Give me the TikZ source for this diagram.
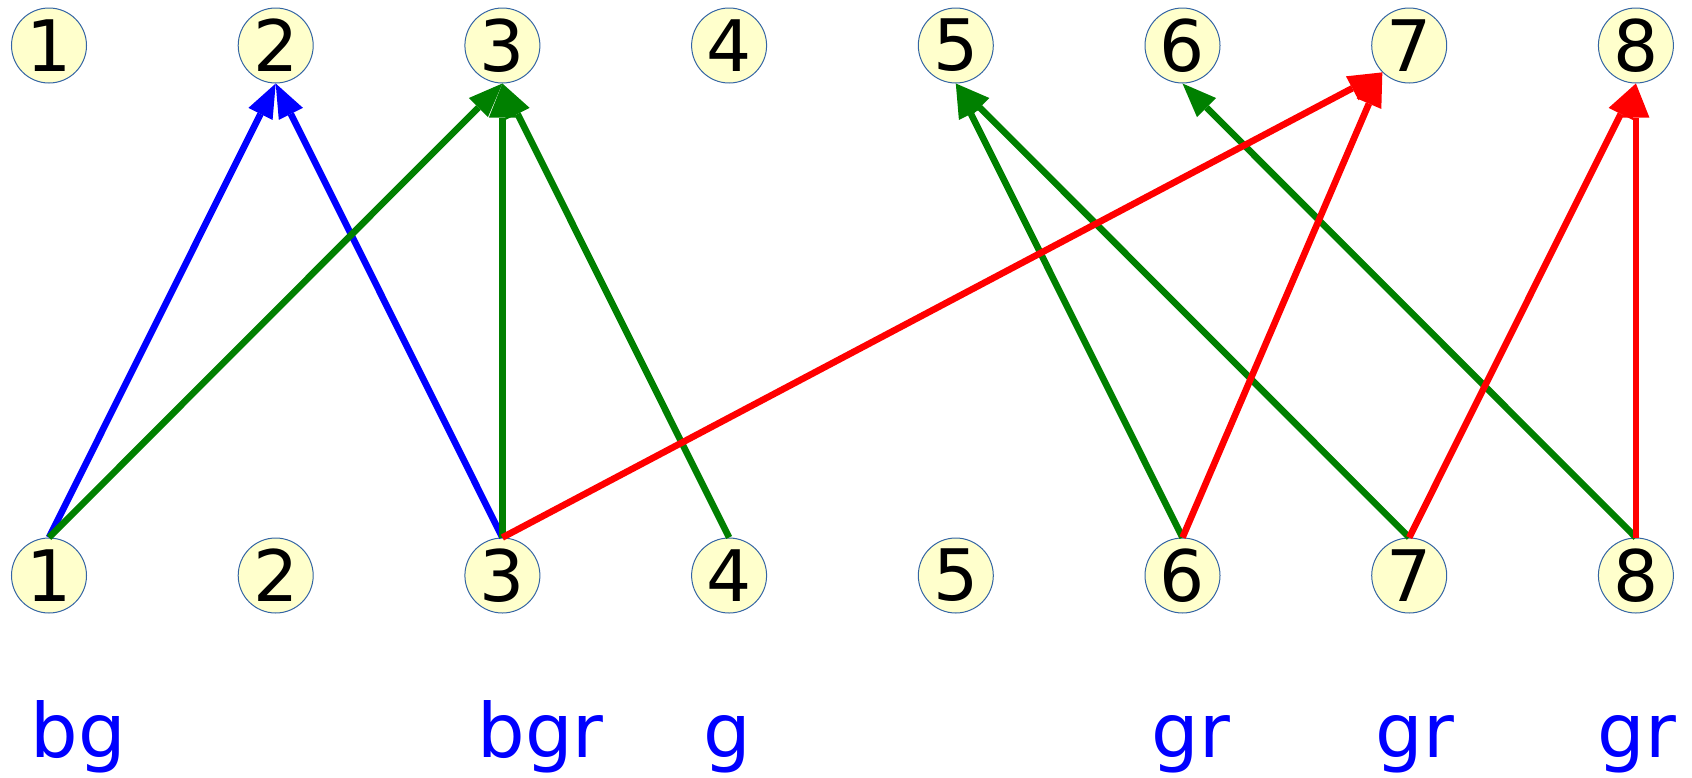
\documentclass[tikz,border=0pt]{standalone}
\usepackage{fontspec}
\setmainfont{DejaVu Sans}
\usetikzlibrary{arrows.meta}
\definecolor{nodefill}{HTML}{FFFFCC}
\definecolor{nodeline}{HTML}{3465A4}
\definecolor{linkb}{HTML}{0000FF}
\definecolor{linkg}{HTML}{008000}
\definecolor{linkr}{HTML}{FF0000}
\tikzset{
  vertex/.style={circle,draw=nodeline,fill=nodefill,line width=0.5pt,
    minimum size=37.5pt,inner sep=0pt,font=\fontsize{35.5}{38}\selectfont},
  link/.style={line width=3.3pt,
    -{Triangle[length=17pt,width=13.5pt,line width=0pt]}},
  tag/.style={anchor=base west,text=linkb,inner sep=0pt,
    font=\fontsize{37.5}{42}\selectfont}
}

\begin{document}
\begin{tikzpicture}[x=0.5pt,y=-0.5pt]
  \useasboundingbox (0,0) rectangle (1692,777);

  % Two rows of vertices
  \foreach \i in {1,...,8} {
    \node[vertex] (t\i) at ({49+226.7*(\i-1)},45.5) {\i};
    \node[vertex] (b\i) at ({49+226.7*(\i-1)},575.5) {\i};
  }

  % Blue links
  \draw[link,linkb] (b1.north) -- (t2.south);
  \draw[link,linkb] (b3.north) -- (t2.south);

  % Green links
  \draw[link,linkg] (b1.north) -- (t3.south);
  \draw[link,linkg] (b3.north) -- (t3.south);
  \draw[link,linkg] (b4.north) -- (t3.south);
  \draw[link,linkg] (b6.north) -- (t5.south);
  \draw[link,linkg] (b7.north) -- (t5.south);
  \draw[link,linkg] (b8.north) -- (t6.south);

  % Red links
  \draw[link,linkr] (b3.north) -- (t7.south west);
  \draw[link,linkr] (b6.north) -- (t7.south west);
  \draw[link,linkr] (b7.north) -- (t8.south);
  \draw[link,linkr] (b8.north) -- (t8.south);

  % Colour tags
  \node[tag] (tag1) at (30,757) {bg};
  \node[tag] (tag3) at (477,757) {bgr};
  \node[tag] (tag4) at (703,757) {g};
  \node[tag] (tag6) at (1151,757) {gr};
  \node[tag] (tag7) at (1375,757) {gr};
  \node[tag] (tag8) at (1597,757) {gr};
\end{tikzpicture}
\end{document}
